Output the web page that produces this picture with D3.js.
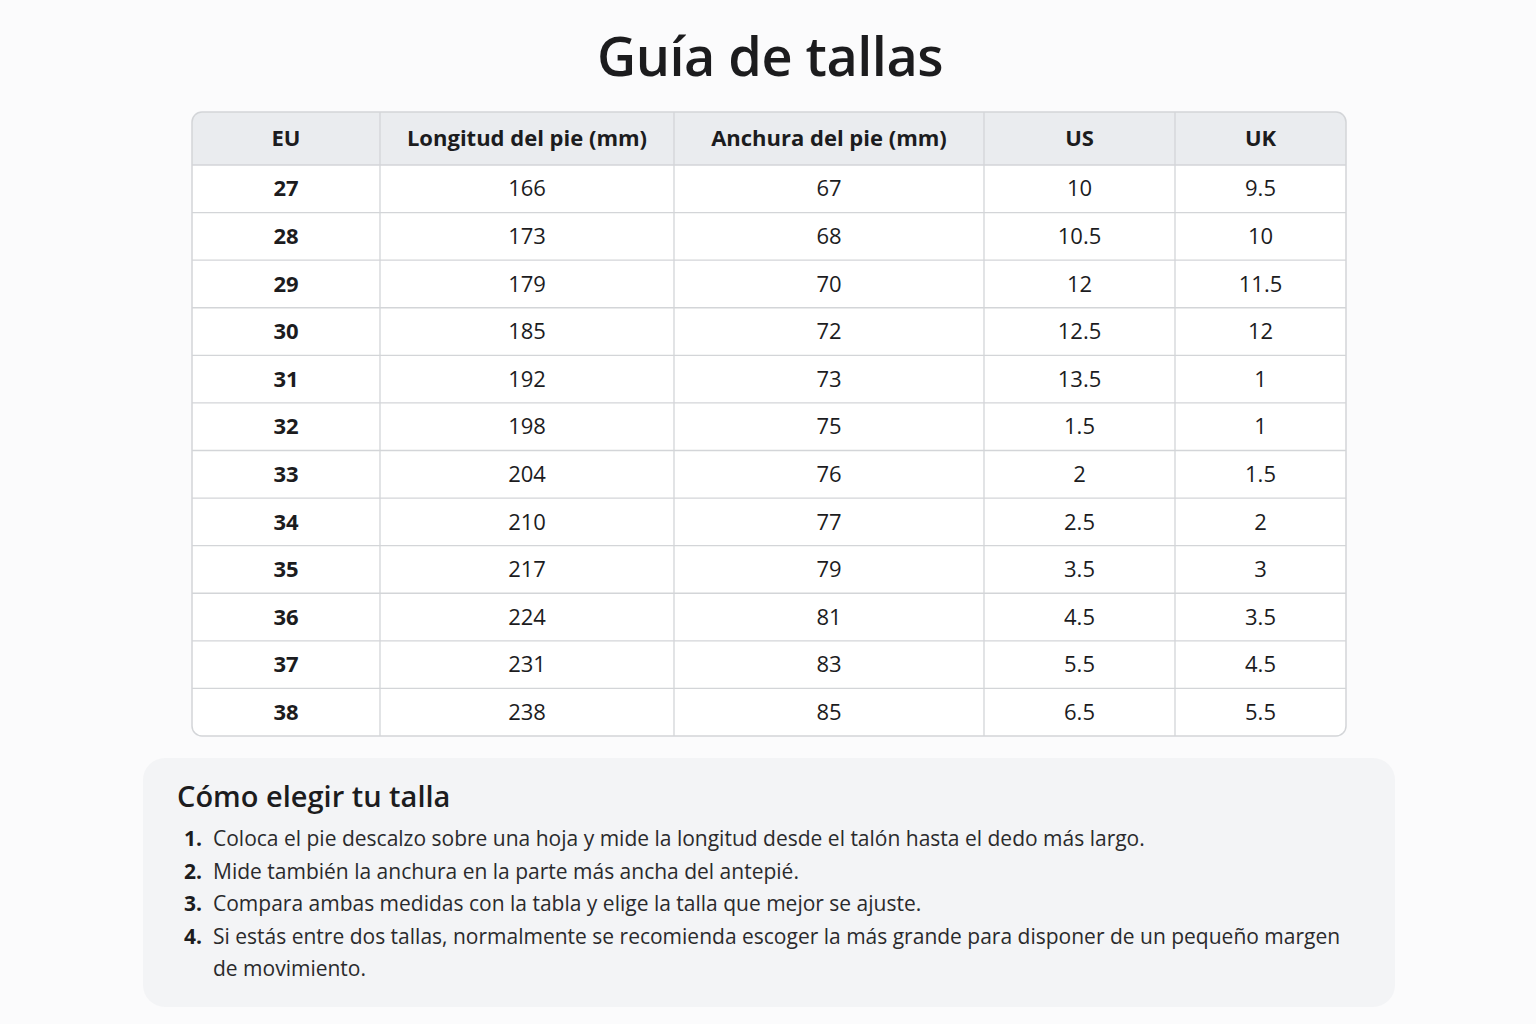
<!DOCTYPE html>
<html><head><meta charset="utf-8">
<script src="https://cdn.jsdelivr.net/npm/d3@7"></script>
<style>body{margin:0;background:#fbfbfc;}svg{display:block;font-family:"Open Sans",sans-serif;}</style>
</head><body><svg id="c" width="1536" height="1024"></svg>
<script>
const title = "Guía de tallas";
const headers = ["EU","Longitud del pie (mm)","Anchura del pie (mm)","US","UK"];
const eu = ["27","28","29","30","31","32","33","34","35","36","37","38"];
const lengthMm = ["166","173","179","185","192","198","204","210","217","224","231","238"];
const widthMm = ["67","68","70","72","73","75","76","77","79","81","83","85"];
const us = ["10","10.5","12","12.5","13.5","1.5","2","2.5","3.5","4.5","5.5","6.5"];
const uk = ["9.5","10","11.5","12","1","1","1.5","2","3","3.5","4.5","5.5"];
const howTitle = "Cómo elegir tu talla";
const steps = [
 ["Coloca el pie descalzo sobre una hoja y mide la longitud desde el talón hasta el dedo más largo."],
 ["Mide también la anchura en la parte más ancha del antepié."],
 ["Compara ambas medidas con la tabla y elige la talla que mejor se ajuste."],
 ["Si estás entre dos tallas, normalmente se recomienda escoger la más grande para disponer de un pequeño margen","de movimiento."]
];

(function(){
const svg = d3.select("#c");
svg.append("rect").attr("width",1536).attr("height",1024).attr("fill","#fbfbfc");
svg.append("text").attr("x",770).attr("y",76).attr("text-anchor","middle")
  .attr("font-size",54).attr("font-weight",600).attr("fill","#1c1c1e").attr("letter-spacing",-0.5).text(title);

const colEdges = [192,380,674,984,1175,1346];
const tTop=112, headH=53, tBot=736;
const rowH=(tBot-tTop-headH)/eu.length;
const cols=[eu,lengthMm,widthMm,us,uk];
const g=svg.append("g");
g.append("defs").append("clipPath").attr("id","clip").append("rect")
 .attr("x",192).attr("y",tTop).attr("width",1154).attr("height",tBot-tTop).attr("rx",10);
const inner=g.append("g").attr("clip-path","url(#clip)");
inner.append("rect").attr("x",192).attr("y",tTop).attr("width",1154).attr("height",tBot-tTop).attr("fill","#ffffff");
inner.append("rect").attr("x",192).attr("y",tTop).attr("width",1154).attr("height",headH).attr("fill","#eaecef");
const lc="#d3d5d8";
colEdges.slice(1,-1).forEach(x=>inner.append("line").attr("x1",x).attr("x2",x).attr("y1",tTop).attr("y2",tBot).attr("stroke",lc).attr("stroke-width",1.3));
for(let i=0;i<eu.length;i++){const y=tTop+headH+i*rowH;
 inner.append("line").attr("x1",192).attr("x2",1346).attr("y1",y).attr("y2",y).attr("stroke",lc).attr("stroke-width",1.3);}
g.append("rect").attr("x",192).attr("y",tTop).attr("width",1154).attr("height",tBot-tTop).attr("rx",10)
 .attr("fill","none").attr("stroke",lc).attr("stroke-width",1.5);
headers.forEach((h,j)=>{
 g.append("text").attr("x",(colEdges[j]+colEdges[j+1])/2).attr("y",tTop+headH/2).attr("dy","0.35em")
  .attr("text-anchor","middle").attr("font-size",22).attr("font-weight",700).attr("fill","#1c1c1e").text(h);
 cols[j].forEach((v,i)=>{
  g.append("text").attr("x",(colEdges[j]+colEdges[j+1])/2).attr("y",tTop+headH+(i+0.5)*rowH).attr("dy","0.35em")
   .attr("text-anchor","middle").attr("font-size",22).attr("font-weight",j===0?700:400).attr("fill","#1c1c1e").text(v);
 });
});

svg.append("rect").attr("x",143).attr("y",758).attr("width",1252).attr("height",249).attr("rx",22).attr("fill","#f3f4f6");
svg.append("text").attr("x",177).attr("y",807).attr("font-size",29).attr("font-weight",600).attr("fill","#1c1c1e").text(howTitle);
let y=846;
steps.forEach((s,i)=>{
 svg.append("text").attr("x",202).attr("y",y).attr("text-anchor","end").attr("font-size",21).attr("font-weight",700).attr("fill","#1c1c1e").text((i+1)+".");
 s.forEach(line=>{svg.append("text").attr("x",213).attr("y",y).attr("font-size",21).attr("fill","#2a2a2c").text(line);y+=32.5;});
});
})();
</script></body></html>
